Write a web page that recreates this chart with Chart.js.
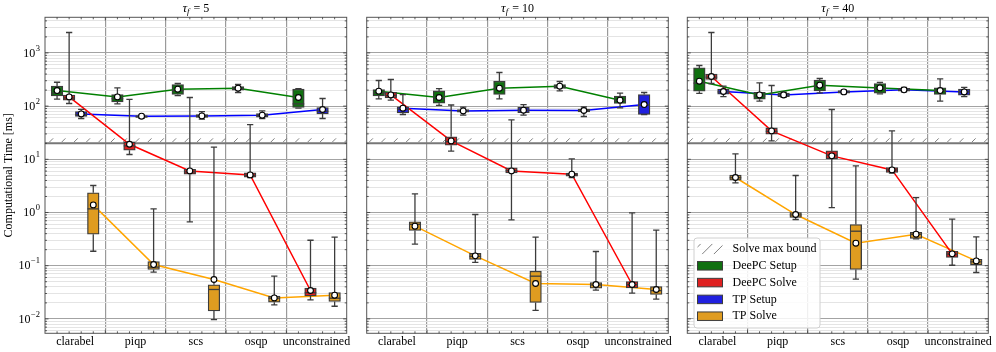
<!DOCTYPE html>
<html>
<head>
<meta charset="utf-8">
<script src="https://cdn.jsdelivr.net/npm/chart.js@4.4.1/dist/chart.umd.min.js"></script>
<style>
html, body { margin: 0; padding: 0; background: #fff; }
#wrap { position: relative; width: 996px; height: 352px; }
#wrap canvas { position: absolute; left: 0; top: 0; }
</style>
</head>
<body>
<div id="wrap">
  <canvas id="p0" width="996" height="352"></canvas>
  <canvas id="p1" width="996" height="352"></canvas>
  <canvas id="p2" width="996" height="352"></canvas>
</div>
<script>
const solvers = ['clarabel', 'piqp', 'scs', 'osqp', 'unconstrained'];
const seriesNames = ['DeePC Setup', 'DeePC Solve', 'TP Setup', 'TP Solve'];
const horizons = [5, 10, 40];
const yDecades = [-2, -1, 0, 1, 2, 3];
const yMin = 0.00536, yMax = 4670;
const solveMaxBound = 20;

// one row per solver: [whisker low, q1, median, q3, whisker high, mean]
const tf5DeepcSetup = [[135, 155, 175, 237, 281, 196], [110, 120, 138, 165, 220, 149], [158, 165, 195, 255, 266, 208], [180, 199, 212, 234, 255, 217], [92, 94, 110, 208, 212, 145]];
const tf5DeepcSolve = [[112, 129, 142, 162, 2420, 149], [12.3, 14.8, 17.9, 21.2, 134, 19.2], [0.665, 5.25, 5.8, 6.5, 145, 6.05], [4.55, 4.61, 5.0, 5.55, 45, 5.09], [0.0228, 0.027, 0.031, 0.0378, 0.301, 0.0342]];
const tf5TpSetup = [[58.5, 64, 69, 79, 87, 71.3], [59, 61, 63, 66, 68, 64.6], [56.7, 61, 64, 69, 79, 65.4], [58.5, 62, 66, 72, 81, 67.4], [58.5, 71, 80, 94, 139, 86.3]];
const tf5TpSolve = [[0.187, 0.391, 1.17, 2.34, 3.22, 1.39], [0.0755, 0.085, 0.094, 0.12, 1.17, 0.105], [0.0097, 0.0141, 0.0357, 0.0436, 16.9, 0.055], [0.0183, 0.0206, 0.0245, 0.0267, 0.0635, 0.0248], [0.0173, 0.0212, 0.0245, 0.0313, 0.343, 0.0279]];

const tf10DeepcSetup = [[137, 155, 175, 205, 303, 191], [103, 113.5, 140, 193, 214, 145], [137, 165, 215, 294, 428, 217], [193, 214, 232, 255, 290, 237], [92.5, 112, 128, 155, 175, 129]];
const tf10DeepcSolve = [[129, 143, 158, 182, 316, 162], [14.2, 18.4, 21.5, 26.4, 105, 22.2], [0.726, 5.55, 6.1, 6.9, 55, 6.05], [4.55, 4.8, 5.1, 5.5, 10.2, 5.25], [0.0304, 0.0383, 0.044, 0.0505, 0.98, 0.0443]];
const tf10TpSetup = [[69.5, 74.5, 87, 96.6, 165, 91.4], [67.4, 77, 81, 86, 95.3, 81.2], [67.4, 75, 84, 95, 107, 83.7], [63.8, 78, 82, 88, 96.6, 82.6], [69.5, 69.5, 105, 165, 180, 107]];
const tf10TpSolve = [[0.254, 0.459, 0.6, 0.666, 2.24, 0.553], [0.115, 0.131, 0.15, 0.17, 0.916, 0.153], [0.0144, 0.0203, 0.0635, 0.0788, 0.343, 0.0463], [0.0346, 0.0378, 0.0435, 0.0483, 0.185, 0.0443], [0.0235, 0.0288, 0.034, 0.0406, 0.465, 0.0357]];

const tf40DeepcSetup = [[173, 191, 270, 523, 580, 294], [124, 135, 155, 182, 273, 162], [177, 193, 240, 307, 330, 247], [170, 175, 215, 266, 280, 220], [124, 165, 195, 220, 325, 196]];
const tf40DeepcSolve = [[266, 316, 350, 398, 2420, 360], [22.2, 29.6, 33.5, 38.9, 244, 34.2], [1.24, 10.2, 12, 14.4, 86.3, 11.6], [5.5, 5.65, 6.3, 7.0, 34.2, 6.32], [0.102, 0.143, 0.165, 0.187, 0.748, 0.167]];
const tf40TpSetup = [[151, 167, 185, 208, 237, 188], [146, 150, 162, 175, 182, 162], [170, 175, 183, 195, 200, 185], [185, 190, 200, 215, 225, 202], [151, 160, 185, 208, 224, 185]];
const tf40TpSolve = [[3.6, 4.05, 4.5, 5.03, 12.6, 4.55], [0.738, 0.805, 0.9, 1.0, 4.96, 0.916], [0.0557, 0.0849, 0.445, 0.595, 7.5, 0.265], [0.32, 0.325, 0.39, 0.426, 1.91, 0.391], [0.0745, 0.104, 0.118, 0.132, 0.348, 0.123]];

const panelData = [
  [tf5DeepcSetup, tf5DeepcSolve, tf5TpSetup, tf5TpSolve],
  [tf10DeepcSetup, tf10DeepcSolve, tf10TpSetup, tf10TpSolve],
  [tf40DeepcSetup, tf40DeepcSolve, tf40TpSetup, tf40TpSolve]
];

const boxFill = ['#107010', '#df2020', '#2020df', '#df9c20'];
const lineColor = ['#008000', '#ff0000', '#0000ff', '#ffa500'];
const edge = '#3c3c3c';
const serif = '"Liberation Serif", "DejaVu Serif", serif';

const panelLeft = [45, 366.7, 687.3];
const panelRight = [346.7, 668.3, 988.3];
const plotTop = 17.3, plotBottom = 333.3;

Chart.defaults.font.family = serif;
Chart.defaults.font.size = 12;
Chart.defaults.color = '#000';

const yTicks = [];
for (let e = -3; e <= 3; e++) {
  for (let m = 1; m <= 9; m++) {
    const v = m * Math.pow(10, e);
    if (v >= yMin && v <= yMax) yTicks.push({ value: v, major: m === 1 });
  }
}

function isDecade(v) {
  const l = Math.log10(v);
  return Math.abs(l - Math.round(l)) < 1e-6;
}

function hatch(ctx, x0, y0, x1, y1, step) {
  ctx.save();
  ctx.beginPath();
  ctx.rect(x0, y0, x1 - x0, y1 - y0);
  ctx.clip();
  const h = y1 - y0;
  ctx.beginPath();
  let start = Math.floor((x0 - h) / step) * step;
  for (let x = start; x < x1 + step; x += step) {
    ctx.moveTo(x, y1);
    ctx.lineTo(x + h, y0);
  }
  ctx.strokeStyle = '#808080';
  ctx.lineWidth = 1;
  ctx.stroke();
  ctx.restore();
}

// whiskers, caps and medians for the floating bars
const boxPlugin = {
  id: 'boxes',
  beforeDatasetsDraw(chart) {
    const a = chart.chartArea, y = chart.scales.y, ctx = chart.ctx;
    const yb = y.getPixelForValue(solveMaxBound);
    const yt = y.getPixelForValue(solveMaxBound * 1.25);
    hatch(ctx, a.left, yt, a.right, yb - 1, 12.3);
    ctx.save();
    ctx.strokeStyle = '#777';
    ctx.lineWidth = 2;
    ctx.beginPath();
    ctx.moveTo(a.left, yb);
    ctx.lineTo(a.right, yb);
    ctx.stroke();
    ctx.restore();
  },
  beforeDatasetDraw(chart, args) {
    const ds = chart.data.datasets[args.index];
    if (!ds.stats) return;
    const y = chart.scales.y, ctx = chart.ctx, a = chart.chartArea;
    ctx.save();
    ctx.beginPath();
    ctx.rect(a.left, a.top, a.width, a.height);
    ctx.clip();
    ctx.strokeStyle = edge;
    ctx.lineWidth = 1.3;
    args.meta.data.forEach((bar, i) => {
      const s = ds.stats[i];
      const x = bar.x, cap = bar.width * 0.27;
      const lo = y.getPixelForValue(s[0]), hi = y.getPixelForValue(s[4]);
      ctx.beginPath();
      ctx.moveTo(x, lo); ctx.lineTo(x, y.getPixelForValue(s[1]));
      ctx.moveTo(x, hi); ctx.lineTo(x, y.getPixelForValue(s[3]));
      ctx.moveTo(x - cap, lo); ctx.lineTo(x + cap, lo);
      ctx.moveTo(x - cap, hi); ctx.lineTo(x + cap, hi);
      ctx.stroke();
    });
    ctx.restore();
  },
  afterDatasetDraw(chart, args) {
    const ds = chart.data.datasets[args.index];
    if (!ds.stats) return;
    const y = chart.scales.y, ctx = chart.ctx;
    ctx.save();
    ctx.strokeStyle = edge;
    ctx.lineWidth = 1.3;
    args.meta.data.forEach((bar, i) => {
      const ym = y.getPixelForValue(ds.stats[i][2]);
      ctx.beginPath();
      ctx.moveTo(bar.x - bar.width / 2, ym);
      ctx.lineTo(bar.x + bar.width / 2, ym);
      ctx.stroke();
    });
    ctx.restore();
  }
};

// frame, inward ticks, titles, y labels and legend
const decorPlugin = {
  id: 'decor',
  afterDatasetsDraw(chart) {
    const a = chart.chartArea, ctx = chart.ctx, x = chart.scales.x, y = chart.scales.y;
    const p = chart.options.plugins.decor.panel;
    ctx.save();
    ctx.strokeStyle = '#555';
    ctx.lineWidth = 1;
    ctx.strokeRect(a.left, a.top, a.width, a.height);
    ctx.strokeStyle = '#333';
    ctx.lineWidth = 0.8;
    ctx.beginPath();
    yTicks.forEach(t => {
      const py = y.getPixelForValue(t.value);
      const len = t.major ? 3.5 : 2;
      ctx.moveTo(a.left, py); ctx.lineTo(a.left + len, py);
      ctx.moveTo(a.right, py); ctx.lineTo(a.right - len, py);
    });
    for (let k = 1; k < 25; k++) {
      const px = x.getPixelForValue(k * 0.2);
      const len = k % 5 === 0 ? 3.5 : 2;
      ctx.moveTo(px, a.top); ctx.lineTo(px, a.top + len);
      ctx.moveTo(px, a.bottom); ctx.lineTo(px, a.bottom - len);
    }
    ctx.stroke();
    ctx.restore();

    if (p === 2) {
      const lx = a.left + 6.7, ly = a.bottom - 95.3, lw = 126, lh = 90;
      ctx.save();
      ctx.beginPath();
      ctx.roundRect(lx, ly, lw, lh, 3);
      ctx.fillStyle = 'rgba(255,255,255,0.85)';
      ctx.fill();
      ctx.strokeStyle = '#d0d0d0';
      ctx.lineWidth = 1;
      ctx.stroke();
      ctx.font = '12px ' + serif;
      ctx.textBaseline = 'middle';
      ctx.textAlign = 'left';
      ctx.fillStyle = '#000';
      const labels = ['Solve max bound'].concat(seriesNames);
      labels.forEach((lab, k) => {
        const ry = ly + 11 + k * 16.8;
        const px = lx + 3.5, pw = 25, ph = 8.5;
        if (k === 0) {
          hatch(ctx, px, ry - ph / 2 - 1, px + pw, ry + ph / 2 + 1, 11.7);
        } else {
          ctx.fillStyle = boxFill[k - 1];
          ctx.fillRect(px, ry - ph / 2, pw, ph);
          ctx.strokeStyle = edge;
          ctx.lineWidth = 1;
          ctx.strokeRect(px, ry - ph / 2, pw, ph);
          ctx.fillStyle = '#000';
        }
        ctx.fillText(lab, lx + 38.5, ry);
      });
      ctx.restore();
    }
  },
  afterDraw(chart) {
    const a = chart.chartArea, ctx = chart.ctx, y = chart.scales.y;
    const p = chart.options.plugins.decor.panel;
    ctx.save();
    ctx.fillStyle = '#000';
    ctx.textBaseline = 'middle';
    // title: tau_f = N
    const f1 = 'italic 13px ' + serif, f2 = 'italic 9px ' + serif, f3 = '12px ' + serif;
    const rest = ' = ' + horizons[p];
    ctx.font = f1; const w1 = ctx.measureText('τ').width;
    ctx.font = f2; const w2 = ctx.measureText('f').width;
    ctx.font = f3; const w3 = ctx.measureText(rest).width;
    let tx = (a.left + a.right) / 2 - (w1 + w2 + 1 + w3) / 2;
    const ty = 8.5;
    ctx.textAlign = 'left';
    ctx.font = f1; ctx.fillText('τ', tx, ty); tx += w1;
    ctx.font = f2; ctx.fillText('f', tx, ty + 3); tx += w2 + 1;
    ctx.font = f3; ctx.fillText(rest, tx, ty);

    if (p === 0) {
      yDecades.forEach(e => {
        const py = y.getPixelForValue(Math.pow(10, e));
        const ex = e < 0 ? '\u2212' + (-e) : String(e);
        ctx.font = '12px ' + serif; const wb = ctx.measureText('10').width;
        ctx.font = '8.5px ' + serif; const we = ctx.measureText(ex).width;
        const xEnd = a.left - 5;
        ctx.font = '12px ' + serif;
        ctx.fillText('10', xEnd - we - wb - 0.5, py + 0.5);
        ctx.font = '8.5px ' + serif;
        ctx.fillText(ex, xEnd - we, py - 4.5);
      });
      ctx.save();
      ctx.translate(8.5, (a.top + a.bottom) / 2);
      ctx.rotate(-Math.PI / 2);
      ctx.textAlign = 'center';
      ctx.font = '12px ' + serif;
      ctx.fillText('Computational Time [ms]', 0, 0);
      ctx.restore();
    }
    ctx.restore();
  }
};

function makePanel(p) {
  const rows = panelData[p];
  const datasets = [];
  rows.forEach((r, k) => {
    const pos = 0.2 * (k + 1);
    datasets.push({
      type: 'line',
      label: seriesNames[k] + ' mean line',
      data: r.map((row, i) => ({ x: i + pos, y: row[5] })),
      borderColor: lineColor[k],
      borderWidth: 1.5,
      pointRadius: 0,
      order: 3
    });
    datasets.push({
      type: 'bar',
      label: seriesNames[k],
      data: r.map((row, i) => ({ x: i + pos, y: [row[1], row[3]] })),
      stats: r,
      backgroundColor: boxFill[k],
      borderColor: edge,
      borderWidth: 1.3,
      borderSkipped: false,
      barThickness: 11.6,
      grouped: false,
      order: 2
    });
    datasets.push({
      type: 'line',
      label: seriesNames[k] + ' mean',
      data: r.map((row, i) => ({ x: i + pos, y: row[5] })),
      showLine: false,
      pointRadius: 2.9,
      pointBorderWidth: 1.1,
      pointBackgroundColor: '#fff',
      pointBorderColor: '#000',
      order: 1
    });
  });

  new Chart(document.getElementById('p' + p), {
    type: 'bar',
    data: { datasets: datasets },
    plugins: [boxPlugin, decorPlugin],
    options: {
      responsive: false,
      animation: false,
      events: [],
      layout: {
        autoPadding: false,
        padding: { left: panelLeft[p], right: 996 - panelRight[p], top: plotTop, bottom: 352 - plotBottom - 18 }
      },
      plugins: {
        legend: { display: false },
        tooltip: { enabled: false },
        decor: { panel: p }
      },
      scales: {
        x: {
          type: 'linear', min: 0, max: 5, offset: false,
          grid: { color: '#9a9a9a', lineWidth: 1.2, drawTicks: false, offset: false },
          border: { display: false },
          ticks: { display: false },
          afterBuildTicks: ax => { ax.ticks = [1, 2, 3, 4].map(v => ({ value: v })); }
        },
        xl: {
          type: 'linear', position: 'bottom', min: 0, max: 5, offset: false,
          grid: { display: false, drawTicks: false, offset: false },
          border: { display: false },
          ticks: {
            autoSkip: false, maxRotation: 0, padding: 3,
            font: { size: 12, lineHeight: 1 },
            callback: (v, i) => solvers[i]
          },
          afterBuildTicks: ax => { ax.ticks = solvers.map((s, i) => ({ value: i + 0.5 })); }
        },
        y: {
          type: 'logarithmic', min: yMin, max: yMax,
          grid: {
            drawTicks: false,
            lineWidth: 1,
            color: c => (c.tick && isDecade(c.tick.value)) ? '#a3a3a3' : '#e4e4e4'
          },
          border: { display: false },
          ticks: { display: false },
          afterBuildTicks: ax => { ax.ticks = yTicks.map(t => ({ value: t.value, major: t.major })); }
        }
      }
    }
  });
}

[0, 1, 2].forEach(makePanel);
</script>
</body>
</html>
